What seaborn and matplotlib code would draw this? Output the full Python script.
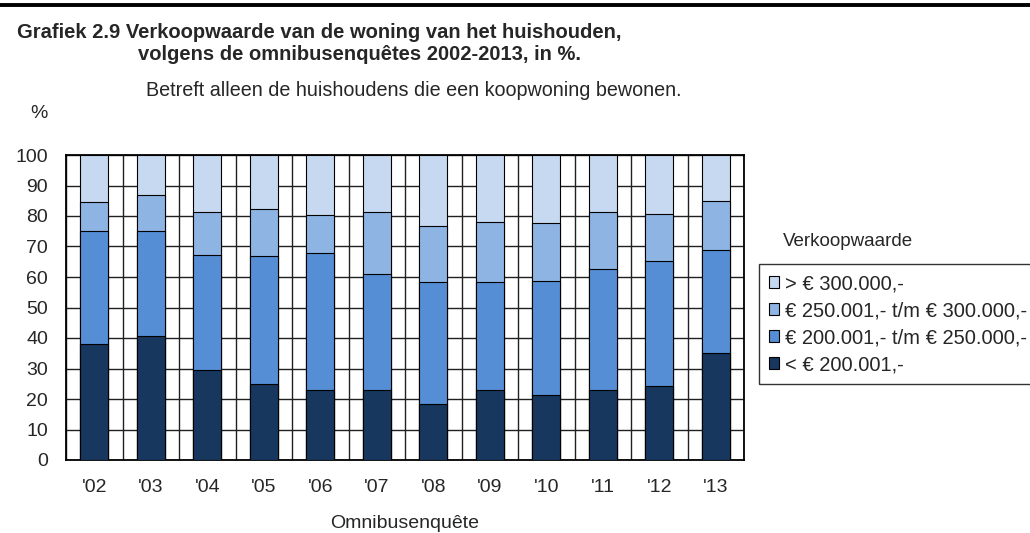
import numpy as np
import pandas as pd
import seaborn as sns
import matplotlib.pyplot as plt
from matplotlib.lines import Line2D

# data (percentages per survey year)
years = ["'02", "'03", "'04", "'05", "'06", "'07", "'08", "'09", "'10", "'11", "'12", "'13"]
under_200 = [38.1, 40.5, 29.5, 24.9, 23.1, 22.8, 18.4, 22.8, 21.3, 23.0, 24.1, 35.2]
from_200_to_250 = [37.1, 34.6, 37.6, 41.9, 44.7, 38.3, 39.9, 35.5, 37.3, 39.6, 41.0, 33.8]
from_250_to_300 = [9.5, 11.7, 14.1, 15.4, 12.5, 20.1, 18.5, 19.6, 19.0, 18.6, 15.7, 16.0]
above_300 = [15.3, 13.2, 18.8, 17.8, 19.7, 18.8, 23.2, 22.1, 22.4, 18.8, 19.2, 15.0]

labels = ["> € 300.000,-",
          "€ 250.001,- t/m € 300.000,-",
          "€ 200.001,- t/m € 250.000,-",
          "< € 200.001,-"]
colors = ["#C6D9F1", "#8EB4E3", "#558ED5", "#17375E"]

sns.set_style("white")
plt.rcParams["font.family"] = ["Liberation Sans", "DejaVu Sans"]

# cumulative heights, top series first so lower ones are drawn over them
series = [above_300, from_250_to_300, from_200_to_250, under_200]
stack = np.cumsum(np.array(series[::-1]), axis=0)[::-1]
rows = []
for lab, vals in zip(labels, stack):
    for yr, v in zip(years, vals):
        rows.append({"jaar": yr, "klasse": lab, "cum": v})
df = pd.DataFrame(rows)

fig = plt.figure(figsize=(10.3, 5.33), dpi=100)
ax = fig.add_axes([66 / 1030, 1 - 460 / 533, 678 / 1030, 305 / 533])

sns.barplot(data=df, x="jaar", y="cum", hue="klasse", hue_order=labels,
            palette=colors, saturation=1, dodge=False, width=0.49, errorbar=None,
            edgecolor="black", linewidth=0.8, ax=ax, zorder=3)

ax.set_xlim(-0.5, len(years) - 0.5)
ax.set_ylim(0, 100)
ax.set_yticks(range(0, 101, 10))
ax.set_xticks(np.arange(-0.5, len(years)), minor=True)
ax.tick_params(axis="x", which="major", length=0, labelsize=14, pad=14)
ax.tick_params(axis="x", which="minor", length=5, width=1, direction="out", color="black")
ax.tick_params(axis="y", length=4, width=1, direction="out", color="black", labelsize=14, pad=9)
ax.set_axisbelow(True)
ax.grid(True, axis="y", which="major", color="#202020", linewidth=1.0)
ax.grid(True, axis="x", which="minor", color="#202020", linewidth=1.0)
ax.grid(False, axis="x", which="major")
for sp in ax.spines.values():
    sp.set_visible(True)
    sp.set_color("black")
    sp.set_linewidth(1.3)
ax.set_xlabel("Omnibusenquête", fontsize=14, labelpad=13)
ax.set_ylabel("")

ax.get_legend().remove()
handles, labs = ax.get_legend_handles_labels()
leg = fig.legend(handles, labs, loc="upper left",
                 bbox_to_anchor=(759 / 1030, 1 - 264 / 533),
                 frameon=True, fancybox=False, edgecolor="black",
                 fontsize=14.5, handlelength=0.5, handleheight=0.5,
                 handletextpad=0.3, labelspacing=0.4, borderpad=0.5,
                 borderaxespad=0)
leg.get_frame().set_linewidth(1.0)

fig.text(783 / 1030, 1 - 242 / 533, "Verkoopwaarde", fontsize=13.5, va="center", ha="left")
fig.text(17 / 1030, 1 - 33 / 533, "Grafiek 2.9 Verkoopwaarde van de woning van het huishouden,",
         fontsize=14.5, fontweight="bold", va="center", ha="left")
fig.text(138 / 1030, 1 - 55 / 533, "volgens de omnibusenquêtes 2002-2013, in %.",
         fontsize=14.5, fontweight="bold", va="center", ha="left")
fig.text(414 / 1030, 1 - 90 / 533, "Betreft alleen de huishoudens die een koopwoning bewonen.",
         fontsize=14.2, va="center", ha="center")
fig.text(30 / 1030, 1 - 114 / 533, "%", fontsize=14, va="center", ha="left")

fig.add_artist(Line2D([0, 1], [1 - 4.5 / 533, 1 - 4.5 / 533], color="black", linewidth=2.8,
                      transform=fig.transFigure))

fig.savefig("out.png", dpi=100)
